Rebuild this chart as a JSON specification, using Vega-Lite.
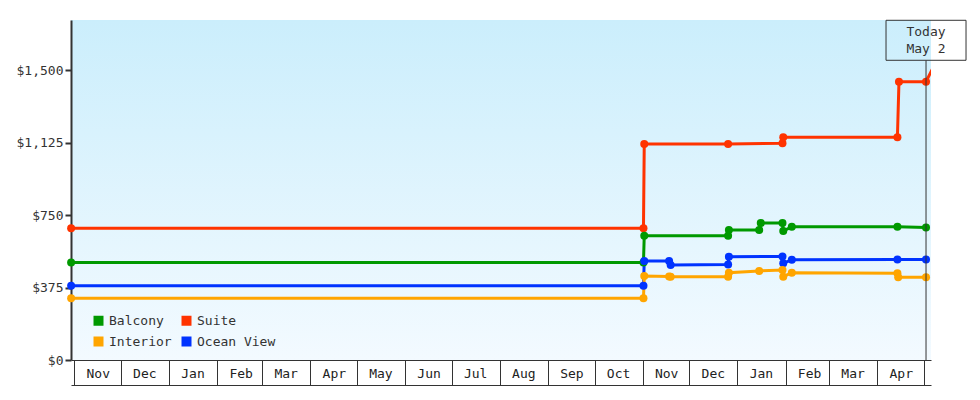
{
  "$schema": "https://vega.github.io/schema/vega-lite/v6.json",
  "width": 860,
  "height": 340,
  "autosize": {"type": "none"},
  "padding": {"left": 71, "top": 20, "right": 49, "bottom": 40},
  "background": "white",
  "config": {
    "font": "DejaVu Sans Mono",
    "view": {
      "stroke": null,
      "fill": {
        "gradient": "linear",
        "x1": 0, "y1": 0, "x2": 0, "y2": 1,
        "stops": [
          {"offset": 0, "color": "#cbeefc"},
          {"offset": 1, "color": "#f3faff"}
        ]
      }
    }
  },
  "data": {
    "format": {"parse": {"date": "date"}},
    "values": [
      {"cabin": "Suite", "date": "2023-10-30", "price": 681},
      {"cabin": "Suite", "date": "2024-11-01T12:00Z", "price": 681},
      {"cabin": "Suite", "date": "2024-11-02", "price": 1117},
      {"cabin": "Suite", "date": "2024-12-26", "price": 1117},
      {"cabin": "Suite", "date": "2025-01-30", "price": 1121},
      {"cabin": "Suite", "date": "2025-01-30T12:00Z", "price": 1152},
      {"cabin": "Suite", "date": "2025-04-14", "price": 1152},
      {"cabin": "Suite", "date": "2025-04-15", "price": 1440},
      {"cabin": "Suite", "date": "2025-05-02T10:00Z", "price": 1440},
      {"cabin": "Suite", "date": "2025-05-09", "price": 1545},
      {"cabin": "Balcony", "date": "2023-10-30", "price": 505},
      {"cabin": "Balcony", "date": "2024-11-01T12:00Z", "price": 505},
      {"cabin": "Balcony", "date": "2024-11-02", "price": 643},
      {"cabin": "Balcony", "date": "2024-12-26", "price": 643},
      {"cabin": "Balcony", "date": "2024-12-26T12:00Z", "price": 672},
      {"cabin": "Balcony", "date": "2025-01-15", "price": 672},
      {"cabin": "Balcony", "date": "2025-01-16", "price": 709},
      {"cabin": "Balcony", "date": "2025-01-30", "price": 709},
      {"cabin": "Balcony", "date": "2025-01-30T12:00Z", "price": 667},
      {"cabin": "Balcony", "date": "2025-02-05", "price": 690},
      {"cabin": "Balcony", "date": "2025-04-14", "price": 690},
      {"cabin": "Balcony", "date": "2025-05-02T10:00Z", "price": 686},
      {"cabin": "Ocean View", "date": "2023-10-30", "price": 384},
      {"cabin": "Ocean View", "date": "2024-11-01T12:00Z", "price": 384},
      {"cabin": "Ocean View", "date": "2024-11-02", "price": 512},
      {"cabin": "Ocean View", "date": "2024-11-18", "price": 512},
      {"cabin": "Ocean View", "date": "2024-11-19", "price": 492},
      {"cabin": "Ocean View", "date": "2024-12-26", "price": 494},
      {"cabin": "Ocean View", "date": "2024-12-26T12:00Z", "price": 534},
      {"cabin": "Ocean View", "date": "2025-01-30", "price": 536},
      {"cabin": "Ocean View", "date": "2025-01-30T12:00Z", "price": 500},
      {"cabin": "Ocean View", "date": "2025-02-05", "price": 519},
      {"cabin": "Ocean View", "date": "2025-04-14", "price": 520},
      {"cabin": "Ocean View", "date": "2025-05-02T10:00Z", "price": 520},
      {"cabin": "Interior", "date": "2023-10-30", "price": 319},
      {"cabin": "Interior", "date": "2024-11-01T12:00Z", "price": 319},
      {"cabin": "Interior", "date": "2024-11-02", "price": 434},
      {"cabin": "Interior", "date": "2024-11-18", "price": 432},
      {"cabin": "Interior", "date": "2024-11-19", "price": 431},
      {"cabin": "Interior", "date": "2024-12-26", "price": 431},
      {"cabin": "Interior", "date": "2024-12-26T12:00Z", "price": 452},
      {"cabin": "Interior", "date": "2025-01-15", "price": 461},
      {"cabin": "Interior", "date": "2025-01-30", "price": 465},
      {"cabin": "Interior", "date": "2025-01-30T12:00Z", "price": 431},
      {"cabin": "Interior", "date": "2025-02-05", "price": 452},
      {"cabin": "Interior", "date": "2025-04-14", "price": 449},
      {"cabin": "Interior", "date": "2025-04-14T12:00Z", "price": 428},
      {"cabin": "Interior", "date": "2025-05-02T10:00Z", "price": 428}
    ]
  },
  "encoding": {
    "x": {
      "field": "date",
      "type": "temporal",
      "scale": {
        "type": "utc",
        "domain": [
          {"year": 2023, "month": 10, "date": 29, "hours": 22, "utc": true},
          {"year": 2025, "month": 5, "date": 5, "hours": 15, "utc": true}
        ]
      }
    },
    "y": {
      "field": "price",
      "type": "quantitative",
      "scale": {"domain": [0, 1759], "nice": false},
      "axis": {
        "title": null,
        "values": [0, 375, 750, 1125, 1500],
        "format": "$,.0f",
        "grid": false,
        "domainColor": "#333",
        "domainWidth": 2,
        "tickColor": "#333",
        "tickWidth": 2,
        "tickSize": 6,
        "labelPadding": 2,
        "labelFont": "DejaVu Sans Mono",
        "labelFontSize": 13,
        "labelColor": "#333"
      }
    },
    "color": {
      "field": "cabin",
      "type": "nominal",
      "scale": {
        "domain": ["Balcony", "Interior", "Suite", "Ocean View"],
        "range": ["#009900", "#ffa500", "#ff3300", "#0033ff"]
      },
      "legend": {
        "title": null,
        "orient": "none",
        "legendX": 21,
        "legendY": 294,
        "columns": 2,
        "symbolType": "square",
        "symbolSize": 100,
        "symbolStrokeWidth": 0,
        "symbolOpacity": 1,
        "labelOffset": 4,
        "columnPadding": 8,
        "rowPadding": 7,
        "labelFont": "DejaVu Sans Mono",
        "labelFontSize": 13,
        "labelColor": "#333"
      }
    }
  },
  "layer": [
    {
      "mark": {"type": "line", "strokeWidth": 3, "clip": true},
      "encoding": {
        "x": {
          "field": "date",
          "type": "temporal",
          "axis": {
            "orient": "bottom",
            "title": null,
            "grid": false,
            "tickCount": "month",
            "tickSize": 25,
            "tickWidth": 1,
            "tickColor": "#333",
            "domainColor": "#333",
            "domainWidth": 1,
            "labelExpr": "datum.value >= utc(2025, 4, 1) ? '' : utcFormat(datum.value, '%b')",
            "labelAlign": "center",
            "labelBaseline": "middle",
            "labelOffset": 23.5,
            "labelPadding": -12,
            "labelOverlap": false,
            "labelBound": false,
            "labelFlush": false,
            "labelFont": "DejaVu Sans Mono",
            "labelFontSize": 13,
            "labelColor": "#222"
          }
        }
      }
    },
    {
      "transform": [{"filter": "time(datum.date) <= utc(2025, 4, 3)"}],
      "mark": {"type": "circle", "size": 64, "opacity": 1},
      "encoding": {
        "x": {"field": "date", "type": "temporal", "axis": null}
      }
    },
    {
      "transform": [{"filter": "datum.cabin == 'Suite' && time(datum.date) == utc(2025, 4, 2, 10)"}],
      "mark": {"type": "rule", "color": "#333", "strokeWidth": 1},
      "encoding": {
        "x": {
          "field": "date",
          "type": "temporal",
          "axis": {
            "orient": "bottom",
            "offset": 25,
            "title": null,
            "grid": false,
            "ticks": false,
            "labels": false,
            "domainColor": "#333",
            "domainWidth": 1
          }
        },
        "y": {"datum": 0},
        "y2": {"datum": 1550},
        "color": {"value": "#333"}
      }
    },
    {
      "transform": [{"filter": "datum.cabin == 'Suite' && time(datum.date) == utc(2025, 4, 2, 10)"}],
      "mark": {
        "type": "point",
        "shape": "M-1,-0.5H1V0.5H-1Z",
        "size": 6400,
        "filled": false,
        "fillOpacity": 0,
        "strokeWidth": 1,
        "opacity": 1
      },
      "encoding": {
        "x": {"field": "date", "type": "temporal", "axis": null},
        "y": {"datum": 1654},
        "color": {"value": "#333"}
      }
    },
    {
      "transform": [{"filter": "datum.cabin == 'Suite' && time(datum.date) == utc(2025, 4, 2, 10)"}],
      "mark": {
        "type": "text",
        "lineHeight": 17,
        "dy": -8.5,
        "align": "center",
        "baseline": "middle",
        "font": "DejaVu Sans Mono",
        "fontSize": 13
      },
      "encoding": {
        "x": {"field": "date", "type": "temporal", "axis": null},
        "y": {"datum": 1654},
        "text": {"value": ["Today", "May 2"]},
        "color": {"value": "#333"}
      }
    }
  ],
  "resolve": {"axis": {"x": "independent"}}
}
